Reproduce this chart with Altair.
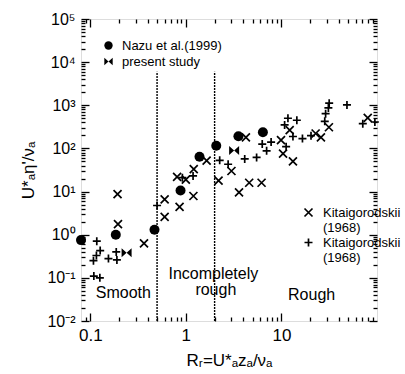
import json
import altair as alt
import pandas as pd

FONT = "Liberation Sans"

# ---- data ----
nazu_x = [0.08, 0.185, 0.47, 0.88, 1.39, 2.08, 3.55, 6.4]
nazu_y = [0.75, 1.0, 1.3, 10.6, 64, 115, 192, 237]
present_x = [0.24, 3.2]
present_y = [0.38, 90]
kit_cross_x = [0.193, 0.195, 0.365, 0.60, 0.60, 0.86, 1.2, 0.81, 1.0, 1.21, 1.65, 2.2, 3.0,
               3.6, 4.25, 4.6, 6.2, 9.9, 10.4, 13.2, 12.2, 22.8, 25.9, 31.4, 80]
kit_cross_y = [8.7, 1.76, 0.63, 6.6, 2.6, 4.4, 7.9, 22, 19, 33, 52, 18, 30,
               9.6, 180, 16, 16, 155, 76, 50, 267, 222, 180, 310, 510]
kit_plus_x = [0.117, 0.127, 0.108, 0.116, 0.155, 0.187, 0.19, 0.109, 0.126,
              0.50, 0.92, 1.19, 2.26, 2.77, 4.13, 5.5, 6.3, 7.0, 7.8,
              11.2, 11.7, 14.5, 10.8, 13.2, 16.6, 20.4,
              31.6, 31, 29, 28.4, 48.5, 71, 95]
kit_plus_y = [0.71, 0.43, 0.25, 0.33, 0.28, 0.40, 0.26, 0.11, 0.10,
              4.75, 21, 23, 53, 43, 57, 62, 126, 88, 140,
              110, 500, 450, 350, 189, 169, 197,
              1120, 870, 640, 425, 1020, 375, 410]

series_a = ["Nazu et al.(1999)", "present study"]
series_b = ["Kitaigorodskii (1968) x", "Kitaigorodskii (1968) +"]

boundary_x = [0.5, 2.0]
boundary_bottom = [0.01, 0.01]
boundary_top = [6000, 6000]

region_text = ["Smooth", "Incompletely", "rough", "Rough"]
region_x = [0.222, 1.94, 2.06, 20.7]
region_y = [0.044, 0.12, 0.051, 0.041]

x_major = [0.1, 1, 10]
x_labels = ["0.1", "1", "10"]
x_minor = [0.09, 0.2, 0.3, 0.4, 0.5, 0.6, 0.7, 0.8, 0.9,
           2, 3, 4, 5, 6, 7, 8, 9, 20, 30, 40, 50, 60, 70, 80, 90]
y_major = [0.01, 0.1, 1, 10, 100, 1000, 10000, 100000]
y_labels = ["10\u207b\u00b2", "10\u207b\u00b9", "10\u2070", "10\u00b9", "10\u00b2",
            "10\u00b3", "10\u2074", "10\u2075"]
y_minor = [m * d for d in [0.01, 0.1, 1, 10, 100, 1000, 10000] for m in [2, 3, 4, 5, 6, 7, 8, 9]]

BOWTIE = "M-1,-0.9L0,0L-1,0.9ZM1,-0.9L0,0L1,0.9Z"
XMARK = "M-1,-1L1,1M-1,1L1,-1"
PLUS = "M-1,0L1,0M0,-1L0,1"

# ---- frames ----
df_a = pd.DataFrame({
    "x": nazu_x + present_x,
    "y": nazu_y + present_y,
    "series": [series_a[0]] * len(nazu_x) + [series_a[1]] * len(present_x),
})
df_b = pd.DataFrame({
    "x": kit_cross_x + kit_plus_x,
    "y": kit_cross_y + kit_plus_y,
    "series": [series_b[0]] * len(kit_cross_x) + [series_b[1]] * len(kit_plus_x),
})
df_rule = pd.DataFrame({"x": boundary_x, "y": boundary_bottom, "y2": boundary_top})
df_text = pd.DataFrame({"x": region_x, "y": region_y, "t": region_text})

xs = alt.Scale(type="log", domain=[0.08, 100], nice=False)
ys = alt.Scale(type="log", domain=[0.01, 100000], nice=False)

base = dict(domain=False, grid=False, tickColor="black", tickWidth=1.3,
            labelColor="black", labelFont=FONT, titleFont=FONT,
            titleColor="black", titleFontWeight="normal")


def ax(orient, values, size, **kw):
    return alt.Axis(orient=orient, values=values, tickSize=size, offset=-size, **base, **kw)


x_lab_expr = json.dumps(x_labels) + "[round(log(datum.value)/LN10)+1]"
y_lab_expr = json.dumps(y_labels) + "[round(log(datum.value)/LN10)+2]"

ax_bottom = ax("bottom", x_major, 8, labels=True, labelExpr=x_lab_expr, labelFontSize=17,
               labelPadding=6, labelFlush=False, labelOverlap=False,
               title="R\u1d63=U*\u2090z\u2090/\u03bd\u2090", titleFontSize=17, titlePadding=9)
ax_bottom_minor = ax("bottom", x_minor, 4, labels=False, title=None)
ax_top = ax("top", x_major, 8, labels=False, title=None)
ax_top_minor = ax("top", x_minor, 4, labels=False, title=None)
ax_left = ax("left", y_major, 8, labels=True, labelExpr=y_lab_expr, labelFontSize=16,
             labelPadding=6, labelFlush=False, labelOverlap=False,
             title="U*\u2090\u03b7'/\u03bd\u2090", titleFontSize=17, titlePadding=9)
ax_left_minor = ax("left", y_minor, 4, labels=False, title=None)
ax_right = ax("right", y_major, 8, labels=False, title=None)
ax_right_minor = ax("right", y_minor, 4, labels=False, title=None)

layer_a = alt.Chart(df_a).mark_point(filled=True, color="black", opacity=1, size=100).encode(
    x=alt.X("x:Q", scale=xs, axis=ax_bottom),
    y=alt.Y("y:Q", scale=ys, axis=ax_left),
    shape=alt.Shape("series:N", scale=alt.Scale(domain=series_a, range=["circle", BOWTIE]),
                    legend=alt.Legend(orient="none", legendX=21, legendY=20, title=None,
                                      labelFont=FONT, labelFontSize=13, labelColor="black",
                                      symbolSize=70, labelOffset=7, rowPadding=1)),
)

layer_b = alt.Chart(df_b).mark_point(filled=False, color="black", opacity=1, size=64,
                                     strokeWidth=1.7).encode(
    x=alt.X("x:Q", scale=xs, axis=ax_bottom_minor),
    y=alt.Y("y:Q", scale=ys, axis=ax_left_minor),
    shape=alt.Shape("series:N", scale=alt.Scale(domain=series_b, range=[XMARK, PLUS]),
                    legend=alt.Legend(orient="none", legendX=221, legendY=187, title=None,
                                      labelFont=FONT, labelFontSize=13, labelColor="black",
                                      labelExpr="['Kitaigorodskii', '(1968)']",
                                      symbolSize=64, symbolStrokeWidth=1.7, labelOffset=8,
                                      rowPadding=0)),
)

layer_rule = alt.Chart(df_rule).mark_rule(color="black", strokeWidth=1.4, strokeDash=[2, 1]).encode(
    x=alt.X("x:Q", scale=xs, axis=ax_top),
    y=alt.Y("y:Q", scale=ys, axis=ax_right),
    y2="y2:Q",
)

layer_text = alt.Chart(df_text).mark_text(font=FONT, fontSize=16, color="black",
                                          align="center", baseline="middle").encode(
    x=alt.X("x:Q", scale=xs, axis=ax_top_minor),
    y=alt.Y("y:Q", scale=ys, axis=ax_right_minor),
    text="t:N",
)

chart = alt.layer(layer_rule, layer_a, layer_b, layer_text).resolve_scale(
    shape="independent"
).resolve_axis(x="independent", y="independent").resolve_legend(shape="independent").properties(
    width=296, height=302,
    autosize=alt.AutoSizeParams(type="none"),
    padding={"left": 81, "top": 19, "right": 28, "bottom": 53},
    background="white",
).configure_view(stroke="black", strokeWidth=1.8).configure(font=FONT)

chart.save("out.html", embed_options={"renderer": "svg", "actions": False})
